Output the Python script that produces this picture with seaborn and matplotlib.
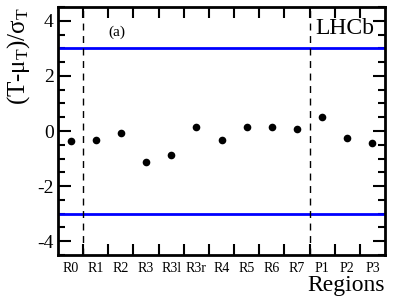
import numpy as np
import pandas as pd
import matplotlib
matplotlib.use("Agg")
import matplotlib.pyplot as plt
import seaborn as sns
from matplotlib.ticker import MultipleLocator, FixedLocator

regions = ["R0", "R1", "R2", "R3", "R3l", "R3r", "R4", "R5", "R6", "R7", "P1", "P2", "P3"]
values = [-0.38, -0.31, -0.07, -1.12, -0.88, 0.15, -0.34, 0.16, 0.16, 0.08, 0.51, -0.24, -0.43]
limits = [3.0, -3.0]
separators = [0.5, 9.5]

sns.set_theme(style="ticks")
plt.rcParams["font.family"] = ["Liberation Serif", "DejaVu Serif"]
plt.rcParams["mathtext.fontset"] = "custom"
plt.rcParams["mathtext.rm"] = "Liberation Serif"
plt.rcParams["mathtext.it"] = "Liberation Serif"
plt.rcParams["mathtext.cal"] = "Liberation Serif"
plt.rcParams["axes.unicode_minus"] = False
plt.rcParams["axes.edgecolor"] = "black"
plt.rcParams["xtick.color"] = "black"
plt.rcParams["ytick.color"] = "black"
plt.rcParams["text.color"] = "black"
plt.rcParams["axes.labelcolor"] = "black"

df = pd.DataFrame({"region": regions, "value": values})

fig = plt.figure(figsize=(3.93, 3.04), dpi=100)
ax = fig.add_axes([58 / 393, 1 - 255 / 304, 327 / 393, 248 / 304])

sns.stripplot(data=df, x="region", y="value", jitter=False, color="black",
              size=5.5, ax=ax, zorder=3, linewidth=0)

for y in limits:
    ax.axhline(y, color="#0000ff", lw=2)
for x in separators:
    ax.axvline(x, color="black", lw=1, ls=(0, (5, 4)))

ax.set_xlim(-0.5, len(regions) - 0.5)
ax.set_ylim(-4.5, 4.5)

ax.xaxis.set_major_locator(FixedLocator(np.arange(0.5, len(regions) - 0.5, 1.0)))
ax.xaxis.set_minor_locator(FixedLocator(np.arange(len(regions))))
ax.set_xticklabels([])
ax.set_xticklabels(regions, minor=True, fontsize=10)
ax.tick_params(axis="x", which="minor", length=0, pad=5)
ax.tick_params(axis="x", which="major", length=8, width=1.5, direction="in", top=True, bottom=True)

ax.yaxis.set_major_locator(MultipleLocator(2))
ax.yaxis.set_minor_locator(MultipleLocator(0.5))
ax.tick_params(axis="y", which="major", length=9, width=1.5, direction="in", left=True, right=True, labelsize=14, pad=3)
ax.tick_params(axis="y", which="minor", length=5, width=1.5, direction="in", left=True, right=True)

for s in ax.spines.values():
    s.set_linewidth(2)
    s.set_visible(True)

ax.set_xlabel("Regions", fontsize=17, loc="right", labelpad=0)
ax.set_ylabel(r"(T-$\mu_{\rm T}$)/$\sigma_{\rm T}$", fontsize=18, loc="top", labelpad=4)

ax.text(0.153, 0.9, "(a)", transform=ax.transAxes, fontsize=11, ha="left", va="center")
ax.text(0.966, 0.915, "LHCb", transform=ax.transAxes, fontsize=17, ha="right", va="center")

fig.savefig("out.png", dpi=100)
